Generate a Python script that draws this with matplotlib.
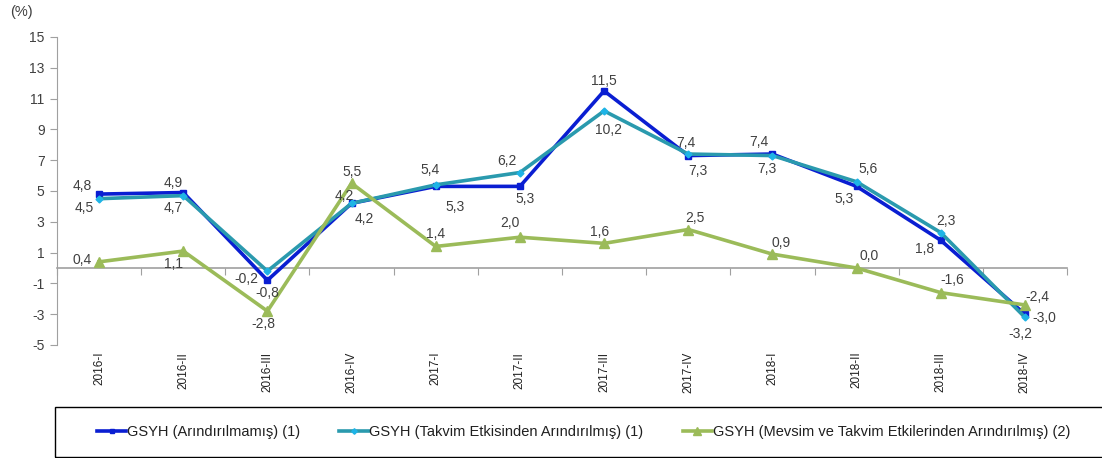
import numpy as np
import matplotlib
matplotlib.use('Agg')
import matplotlib.pyplot as plt
import matplotlib.transforms as mtransforms
from matplotlib.patches import Rectangle

plt.rcParams['font.family'] = ['Liberation Sans', 'DejaVu Sans']
plt.rcParams['axes.unicode_minus'] = False

# quarters
categories = ['2016-I', '2016-II', '2016-III', '2016-IV',
              '2017-I', '2017-II', '2017-III', '2017-IV',
              '2018-I', '2018-II', '2018-III', '2018-IV']

# series (%)
unadjusted = [4.8, 4.9, -0.8, 4.2, 5.3, 5.3, 11.5, 7.3, 7.4, 5.3, 1.8, -3.0]
calendar_adj = [4.5, 4.7, -0.2, 4.2, 5.4, 6.2, 10.2, 7.4, 7.3, 5.6, 2.3, -3.2]
seasonal_adj = [0.4, 1.1, -2.8, 5.5, 1.4, 2.0, 1.6, 2.5, 0.9, 0.0, -1.6, -2.4]

series_names = ['GSYH (Arındırılmamış) (1)',
                'GSYH (Takvim Etkisinden Arındırılmış) (1)',
                'GSYH (Mevsim ve Takvim Etkilerinden Arındırılmış) (2)']

yticks = list(range(-5, 16, 2))

# where each value label sits relative to its point (offset in points)
off_unadj = [(-12, 6), (-7, 7), (0, -9), (9, -11), (14, -15), (4, -9),
             (0, 7), (7, -11), (-10, 9), (-9, -9), (-12, -6), (14, -3)]
off_cal = [(-11, -7), (-7, -9), (-15, -6), (-5, 5), (-4, 11), (-9, 8),
           (3, -14), (-2, 8), (-4, -10), (8, 9), (4, 8), (-3, -12)]
off_seas = [(-12, 1), (-7, -9), (-3, -9), (0, 8), (0, 9), (-7, 10),
            (-3, 8), (5, 8), (6, 8), (9, 9), (8, 9), (9, 6)]

fig = plt.figure(figsize=(11.02, 4.58), dpi=100)
ax = fig.add_axes([57 / 1102, 113 / 458, 1010 / 1102, 308 / 458])

x = np.arange(len(categories))
styles = [
    (unadjusted, '#0A1ED2', 's', 4, '#0A1ED2', off_unadj),
    (calendar_adj, '#2A9AAE', 'D', 3.5, '#1EB4E6', off_cal),
    (seasonal_adj, '#9BBB59', '^', 6.5, '#9BBB59', off_seas),
]
handles = []
for (vals, col, mk, ms, mcol, offs), name in zip(styles, series_names):
    h, = ax.plot(x, vals, color=col, lw=2.6, marker=mk, markersize=ms,
                 markerfacecolor=mcol, markeredgecolor=mcol, label=name,
                 zorder=3)
    handles.append(h)
    for xi, v, o in zip(x, vals, offs):
        ax.annotate(f'{v:.1f}'.replace('.', ','), (xi, v),
                    xytext=o, textcoords='offset points',
                    ha='center', va='center', fontsize=10, color='#404040',
                    zorder=4)

ax.set_xlim(-0.5, len(categories) - 0.5)
ax.set_ylim(-5, 15)
ax.set_yticks(yticks)
ax.tick_params(axis='y', labelsize=10, labelcolor='#404040', length=5,
               color='#A0A0A0', direction='out', pad=4)
ax.spines['top'].set_visible(False)
ax.spines['right'].set_visible(False)
ax.spines['left'].set_color('#A0A0A0')
ax.spines['bottom'].set_position(('data', 0))
ax.spines['bottom'].set_color('#A0A0A0')
ax.spines['bottom'].set_linewidth(1.2)
ax.set_xticks(np.arange(-0.5, len(categories), 1.0))
ax.set_xticklabels([])
ax.tick_params(axis='x', length=5, color='#A0A0A0', direction='out')

trans = mtransforms.blended_transform_factory(ax.transData, ax.transAxes)
for xi, c in zip(x, categories):
    ax.text(xi, -0.022, c, transform=trans, rotation=90, ha='center',
            va='top', fontsize=8.5, color='#202020')

fig.text(10 / 1102, 1 - 12 / 458, '(%)', fontsize=10.5, color='#404040',
         va='center')

fig.patches.append(Rectangle((55 / 1102, 1 / 458), 1.0, 50 / 458,
                             transform=fig.transFigure, fill=False,
                             ec='black', lw=1))
fig.legend(handles=handles, loc='center left',
           bbox_to_anchor=(97 / 1102, 26 / 458), ncol=3, frameon=False,
           borderpad=0, borderaxespad=0, markerscale=0.8,
           handlelength=2.0, handletextpad=0.05, columnspacing=2.7,
           fontsize=10.5, labelcolor='#202020')

fig.savefig('out.png', dpi=100)
